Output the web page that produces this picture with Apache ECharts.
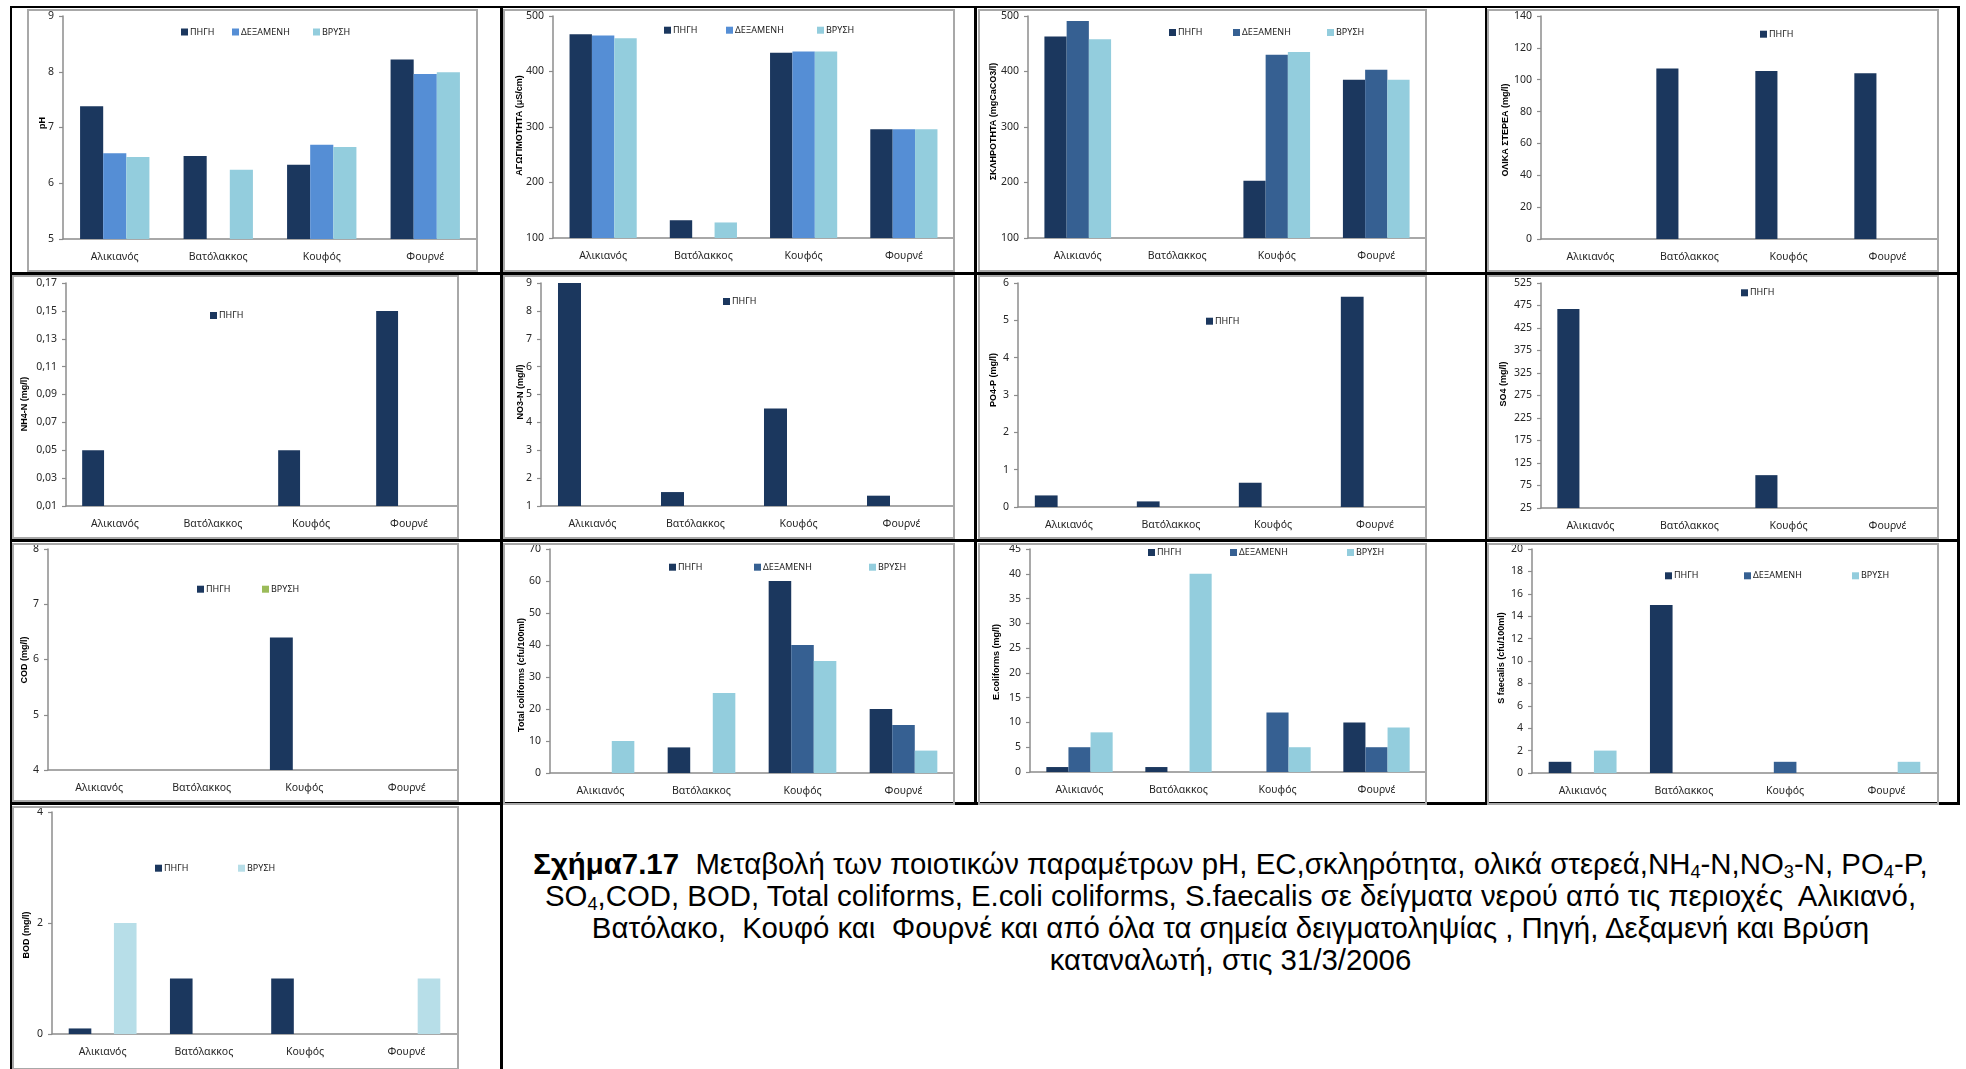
<!DOCTYPE html>
<html><head><meta charset="utf-8">
<script src="https://cdn.jsdelivr.net/npm/echarts@6/dist/echarts.min.js"></script>
<style>
html,body{margin:0;padding:0;background:#fff;}
body{width:1966px;height:1069px;overflow:hidden;position:relative;}
.chart{position:absolute;}
.frame{position:absolute;box-sizing:border-box;border:2px solid #a8a8a8;pointer-events:none;}
.line{position:absolute;background:#000;}
#caption{position:absolute;left:503px;width:1455px;top:848px;text-align:center;font-family:'Liberation Sans',Arial,sans-serif;font-size:29.4px;line-height:32px;color:#000;white-space:pre;}
#caption sub{font-size:0.62em;line-height:0;vertical-align:-0.22em;}
</style></head>
<body>
<div id="caption"><div><b>Σχήμα7.17</b>  Μεταβολή των ποιοτικών παραμέτρων pH, EC,σκληρότητα, ολικά στερεά,NH<sub>4</sub>-N,NO<sub>3</sub>-N, PO<sub>4</sub>-P,</div><div>SO<sub>4</sub>,COD, BOD, Total coliforms, E.coli coliforms, S.faecalis σε δείγματα νερού από τις περιοχές  Αλικιανό,</div><div>Βατόλακο,  Κουφό και  Φουρνέ και από όλα τα σημεία δειγματοληψίας , Πηγή, Δεξαμενή και Βρύση</div><div>καταναλωτή, στις 31/3/2006</div></div>
<script>
// ---------------- DATA ----------------
const categories = ['Αλικιανός', 'Βατόλακκος', 'Κουφός', 'Φουρνέ'];
const seriesNames = ['ΠΗΓΗ', 'ΔΕΞΑΜΕΝΗ', 'ΒΡΥΣΗ'];

const phPigi = [7.38, 6.49, 6.33, 8.22];
const phDexameni = [6.54, null, 6.69, 7.96];
const phVrysi = [6.47, 6.24, 6.65, 7.99];

const ecPigi = [467, 132, 434, 296];
const ecDexameni = [465, null, 436, 296];
const ecVrysi = [460, 128, 436, 296];

const hardPigi = [463, null, 203, 385];
const hardDexameni = [491, null, 430, 403];
const hardVrysi = [458, null, 435, 385];

const tsPigi = [null, 107, 105.5, 104];
const nh4Pigi = [0.05, null, 0.05, 0.15];
const no3Pigi = [9, 1.5, 4.5, 1.37];
const po4Pigi = [0.31, 0.15, 0.65, 5.63];
const so4Pigi = [467, null, 98, null];
const codPigi = [null, null, 6.4, null];

const tcPigi = [null, 8, 60, 20];
const tcDexameni = [null, null, 40, 15];
const tcVrysi = [10, 25, 35, 7];

const ecoliPigi = [1, 1, null, 10];
const ecoliDexameni = [5, null, 12, 5];
const ecoliVrysi = [8, 40, 5, 9];

const sfPigi = [1, 15, null, null];
const sfDexameni = [null, null, 1, null];
const sfVrysi = [2, null, null, 1];

const bodPigi = [0.1, 1, 1, null];
const bodVrysi = [2, null, null, 1];

const emptySeries = [null, null, null, null];

// tick labels
const phTicks = [5, 6, 7, 8, 9];
const ecTicks = [100, 200, 300, 400, 500];
const hardTicks = [100, 200, 300, 400, 500];
const tsTicks = [0, 20, 40, 60, 80, 100, 120, 140];
const nh4Ticks = [0.01, 0.03, 0.05, 0.07, 0.09, 0.11, 0.13, 0.15, 0.17];
const no3Ticks = [1, 2, 3, 4, 5, 6, 7, 8, 9];
const po4Ticks = [0, 1, 2, 3, 4, 5, 6];
const so4Ticks = [25, 75, 125, 175, 225, 275, 325, 375, 425, 475, 525];
const codTicks = [4, 5, 6, 7, 8];
const tcTicks = [0, 10, 20, 30, 40, 50, 60, 70];
const ecoliTicks = [0, 5, 10, 15, 20, 25, 30, 35, 40, 45];
const sfTicks = [0, 2, 4, 6, 8, 10, 12, 14, 16, 18, 20];
const bodTicks = [0, 2, 4];

// axis titles
const axisTitles = ['pH', 'ΑΓΩΓΙΜΟΤΗΤΑ (μS/cm)', 'ΣΚΛΗΡΟΤΗΤΑ (mgCaCO3/l)', 'ΟΛΙΚΑ ΣΤΕΡΕΑ (mg/l)',
  'NH4-N (mg/l)', 'NO3-N (mg/l)', 'PO4-P (mg/l)', 'SO4 (mg/l)',
  'COD (mg/l)', 'Total coliforms (cfu/100ml)', 'E.coliforms (mg/l)', 'S faecalis (cfu/100ml)', 'BOD (mg/l)'];

// ---------------- STYLE ----------------
const FONT = "'Noto Sans','DejaVu Sans',sans-serif";
const C_PIGI = '#1b375e', C_DEX_L = '#558ed5', C_DEX_D = '#366092', C_VRY = '#93cddd', C_VRY_PALE = '#b7dee8', C_VRY_GREEN = '#9bbb59';
const AXIS_C = '#8c8c8c';

// layout: box [x,y,w,h], plot [L,R,T,B] (page px), legend [[nameIdx, iconX]], legendY, title position
const panels = [
  {box:[27,9,451,263], plot:[63,477,16,239], ticks:phTicks, data:[phPigi,phDexameni,phVrysi], colors:[C_PIGI,C_DEX_L,C_VRY], legend:[[0,181],[1,232],[2,313]], ly:33.5, title:0, tp:[42.7,123]},
  {box:[503,9,452,263], plot:[553,954,16,238], ticks:ecTicks, data:[ecPigi,ecDexameni,ecVrysi], colors:[C_PIGI,C_DEX_L,C_VRY], legend:[[0,664],[1,726],[2,817]], ly:31.7, title:1, tp:[519.5,125.5]},
  {box:[978,9,449,263], plot:[1028,1426,16,238], ticks:hardTicks, data:[hardPigi,hardDexameni,hardVrysi], colors:[C_PIGI,C_DEX_D,C_VRY], legend:[[0,1169],[1,1233],[2,1327]], ly:34, title:2, tp:[994,121.5]},
  {box:[1487,9,452,263], plot:[1541,1937,16,239], ticks:tsTicks, data:[tsPigi,emptySeries,emptySeries], colors:[C_PIGI,C_DEX_D,C_VRY], legend:[[0,1760]], ly:35.7, title:3, tp:[1505.5,130]},
  {box:[12,275,447,264], plot:[66,458,283,506], ticks:nh4Ticks, dec:2, data:[nh4Pigi,emptySeries,emptySeries], colors:[C_PIGI,C_DEX_D,C_VRY], legend:[[0,210]], ly:317, title:4, tp:[25,404]},
  {box:[503,275,452,264], plot:[541,953,283,506], ticks:no3Ticks, data:[no3Pigi,emptySeries,emptySeries], colors:[C_PIGI,C_DEX_D,C_VRY], legend:[[0,723]], ly:303, title:5, tp:[521,392]},
  {box:[978,275,449,264], plot:[1018,1426,283,507], ticks:po4Ticks, data:[po4Pigi,emptySeries,emptySeries], colors:[C_PIGI,C_DEX_D,C_VRY], legend:[[0,1206]], ly:322.7, title:6, tp:[994,380]},
  {box:[1487,275,452,264], plot:[1541,1937,283,508], ticks:so4Ticks, data:[so4Pigi,emptySeries,emptySeries], colors:[C_PIGI,C_DEX_D,C_VRY], legend:[[0,1741]], ly:294.3, title:7, tp:[1504,384]},
  {box:[12,543,447,259], plot:[48,458,549,770], ticks:codTicks, data:[codPigi,emptySeries,emptySeries], colors:[C_PIGI,C_DEX_D,C_VRY_GREEN], legend:[[0,197],[2,262]], ly:590.7, title:8, tp:[24.5,660]},
  {box:[503,543,452,262], plot:[550,954,549,773], ticks:tcTicks, data:[tcPigi,tcDexameni,tcVrysi], colors:[C_PIGI,C_DEX_D,C_VRY], legend:[[0,669],[1,754],[2,869]], ly:568.7, title:9, tp:[522,675]},
  {box:[978,543,449,262], plot:[1030,1426,549,772], ticks:ecoliTicks, data:[ecoliPigi,ecoliDexameni,ecoliVrysi], colors:[C_PIGI,C_DEX_D,C_VRY], legend:[[0,1148],[1,1230],[2,1347]], ly:554, title:10, tp:[997,662]},
  {box:[1487,543,452,262], plot:[1532,1937,549,773], ticks:sfTicks, data:[sfPigi,sfDexameni,sfVrysi], colors:[C_PIGI,C_DEX_D,C_VRY], legend:[[0,1665],[1,1744],[2,1852]], ly:577.3, title:11, tp:[1502,658]},
  {box:[12,806,447,264], plot:[52,457,812,1034], ticks:bodTicks, data:[bodPigi,emptySeries,bodVrysi], colors:[C_PIGI,C_DEX_D,C_VRY_PALE], legend:[[0,155],[2,238]], ly:869.7, title:12, tp:[26.5,935]}
];

// table lines [x,y,w,h]
const tableLines = [
  [10,6,1950,2],[10,272,1950,3],[10,539,1950,3],[10,802,1950,3],
  [10,6,2,1063],[500,6,3,1063],[974,6,3,799],[1485,6,2,799],[1957,6,3,799]
];
tableLines.forEach(([x,y,w,h]) => {
  const d = document.createElement('div');
  d.className = 'line';
  d.style.cssText = `left:${x}px;top:${y}px;width:${w}px;height:${h}px;`;
  document.body.appendChild(d);
});

panels.forEach(p => {
  const [bx, by, bw, bh] = p.box;
  const [L, R, T, B] = p.plot;
  const el = document.createElement('div');
  el.className = 'chart';
  el.style.cssText = `left:${bx}px;top:${by}px;width:${bw}px;height:${bh}px;`;
  document.body.appendChild(el);
  const fr = document.createElement('div');
  fr.className = 'frame';
  fr.style.cssText = `left:${bx}px;top:${by}px;width:${bw}px;height:${bh}px;`;
  document.body.appendChild(fr);

  const ticks = p.ticks;
  const step = ticks[1] - ticks[0];
  const minV = ticks[0], maxV = ticks[ticks.length - 1];
  const yAxis = {
    type: 'value', min: minV, max: maxV,
    axisLine: {show: true, lineStyle: {color: AXIS_C, width: 1.5}},
    axisTick: {show: true, length: 4, lineStyle: {color: AXIS_C, width: 1.2}, customValues: ticks},
    axisLabel: {customValues: ticks, fontSize: 10.5, color: '#262626', margin: 9, fontFamily: FONT,
      formatter: v => p.dec ? v.toFixed(p.dec).replace('.', ',') : String(v)},
    splitLine: {show: false}
  };
  if (Math.abs(minV / step - Math.round(minV / step)) < 1e-9) yAxis.interval = step;

  const chart = echarts.init(el, null, {renderer: 'canvas'});
  chart.setOption({
    animation: false,
    textStyle: {fontFamily: FONT},
    grid: {left: L - bx, top: T - by, width: R - L, height: B - T, containLabel: false},
    legend: p.legend.map(([idx, ix]) => ({
      data: [seriesNames[idx]], left: ix - bx, top: p.ly - by - 6, padding: 0,
      itemWidth: 7, itemHeight: 7, icon: 'rect', selectedMode: false,
      textStyle: {fontSize: 9, color: '#1a1a1a', fontFamily: FONT, padding: [0, 0, 0, -3]}
    })),
    xAxis: {
      type: 'category', data: categories,
      axisLine: {lineStyle: {color: AXIS_C, width: 1.5}},
      axisTick: {length: 4, lineStyle: {color: AXIS_C, width: 1.2}},
      axisLabel: {fontSize: 10.5, color: '#262626', margin: 13, fontFamily: FONT}
    },
    yAxis: yAxis,
    series: seriesNames.map((name, i) => ({
      type: 'bar', name: name, data: p.data[i], clip: true,
      itemStyle: {color: p.colors[i]}, barGap: '0%', barCategoryGap: '33%'
    })),
    graphic: [{
      type: 'text', x: p.tp[0] - bx, y: p.tp[1] - by, rotation: Math.PI / 2, silent: true,
      style: {text: axisTitles[p.title], fontSize: 9, fontWeight: 'bold', fontFamily: "'Liberation Sans',Arial,sans-serif",
        fill: '#000', textAlign: 'center', textVerticalAlign: 'middle', align: 'center', verticalAlign: 'middle'}
    }]
  });
});
</script>
</body></html>
